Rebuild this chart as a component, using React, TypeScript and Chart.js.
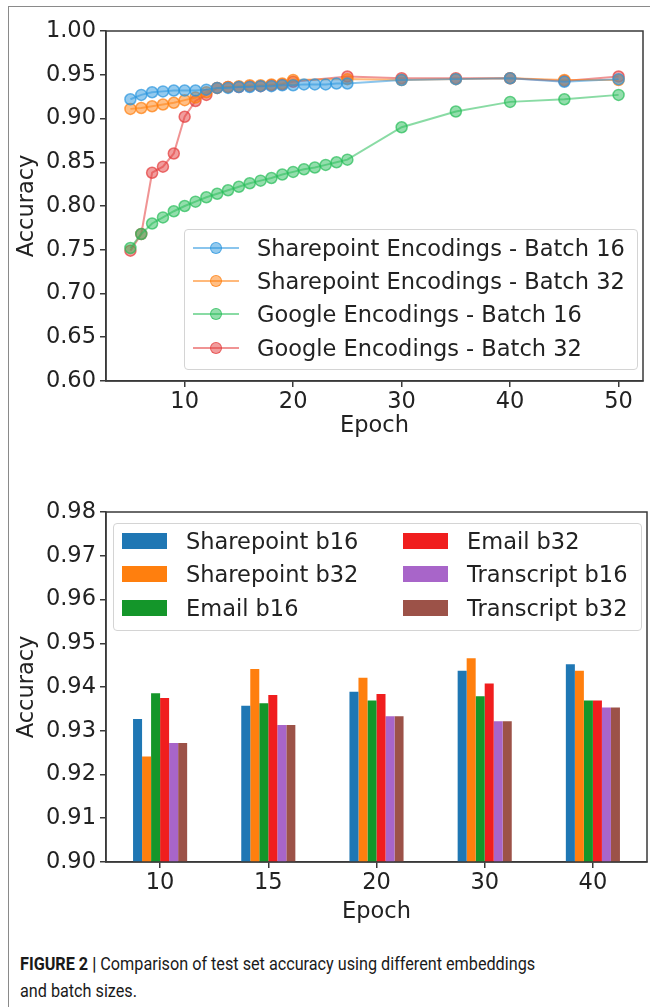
import React, { useEffect, useRef } from 'react';
import { Chart, registerables } from 'chart.js';
Chart.register(...registerables);

// ---------- Data: line chart ----------
const sp16Epochs = [5, 6, 7, 8, 9, 10, 11, 12, 13, 14, 15, 16, 17, 18, 19, 20, 21, 22, 23, 24, 25, 30, 35, 40, 45, 50];
const sp16Acc = [0.922, 0.927, 0.930, 0.931, 0.932, 0.932, 0.932, 0.933, 0.935, 0.935, 0.936, 0.936, 0.937, 0.937, 0.938, 0.938, 0.939, 0.939, 0.939, 0.940, 0.940, 0.944, 0.945, 0.946, 0.942, 0.945];

const sp32Epochs = [5, 6, 7, 8, 9, 10, 11, 12, 13, 14, 15, 16, 17, 18, 19, 20, 25, 30, 35, 40, 45, 50];
const sp32Acc = [0.911, 0.912, 0.914, 0.916, 0.918, 0.921, 0.924, 0.930, 0.935, 0.936, 0.937, 0.938, 0.938, 0.939, 0.940, 0.944, 0.945, 0.944, 0.945, 0.946, 0.944, 0.944];

const g16Epochs = [5, 6, 7, 8, 9, 10, 11, 12, 13, 14, 15, 16, 17, 18, 19, 20, 21, 22, 23, 24, 25, 30, 35, 40, 45, 50];
const g16Acc = [0.752, 0.768, 0.780, 0.787, 0.794, 0.800, 0.805, 0.810, 0.814, 0.818, 0.822, 0.826, 0.829, 0.832, 0.836, 0.839, 0.842, 0.844, 0.847, 0.850, 0.853, 0.890, 0.908, 0.919, 0.922, 0.927];

const g32Epochs = [5, 6, 7, 8, 9, 10, 11, 12, 13, 14, 15, 16, 17, 18, 19, 20, 25, 30, 35, 40, 45, 50];
const g32Acc = [0.749, 0.768, 0.838, 0.845, 0.860, 0.902, 0.920, 0.927, 0.935, 0.936, 0.936, 0.937, 0.937, 0.938, 0.939, 0.942, 0.948, 0.946, 0.946, 0.946, 0.943, 0.948];

const lineLabels = [
  'Sharepoint Encodings - Batch 16',
  'Sharepoint Encodings - Batch 32',
  'Google Encodings - Batch 16',
  'Google Encodings - Batch 32',
];
const lineXTicks = [10, 20, 30, 40, 50];
const lineYTicks = [0.6, 0.65, 0.7, 0.75, 0.8, 0.85, 0.9, 0.95, 1.0];

// ---------- Data: bar chart ----------
const barEpochs = ['10', '15', '20', '30', '40'];
const spB16 = [0.9327, 0.9357, 0.9389, 0.9437, 0.9452];
const spB32 = [0.9241, 0.9441, 0.9421, 0.9466, 0.9437];
const emB16 = [0.9386, 0.9363, 0.9369, 0.9379, 0.9369];
const emB32 = [0.9375, 0.9382, 0.9384, 0.9408, 0.9369];
const trB16 = [0.9272, 0.9313, 0.9333, 0.9322, 0.9353];
const trB32 = [0.9272, 0.9313, 0.9333, 0.9322, 0.9353];
const barLabels = ['Sharepoint b16', 'Sharepoint b32', 'Email b16', 'Email b32', 'Transcript b16', 'Transcript b32'];
const barYTicks = [0.9, 0.91, 0.92, 0.93, 0.94, 0.95, 0.96, 0.97, 0.98];

// ---------- Styles ----------
const FONT = "'DejaVu Sans', sans-serif";
const FS = 22.5;
const TXT = '#222222';
const AX = '#3a3a3a';
const lineRGB = ['41,150,222', '255,127,14', '40,190,90', '228,60,60'];
const barColors = ['#1f77b4', '#ff7f0e', '#14962a', '#f01e1e', '#a865c9', '#9c5248'];

const framePlugin = {
  id: 'frame',
  afterDraw(chart: any) {
    const { ctx, chartArea } = chart;
    const { left, top, right, bottom } = chartArea;
    ctx.save();
    ctx.strokeStyle = AX;
    ctx.lineWidth = 1.5;
    ctx.strokeRect(left, top, right - left, bottom - top);
    ctx.restore();
  },
};

const tickFont = { family: FONT, size: FS };

function axisGrid() {
  return { display: true, drawOnChartArea: false, drawTicks: true, tickLength: 6, color: AX, lineWidth: 1.5 };
}

function LineChart() {
  const ref = useRef<HTMLCanvasElement | null>(null);
  useEffect(() => {
    const series = [
      [sp16Epochs, sp16Acc],
      [sp32Epochs, sp32Acc],
      [g16Epochs, g16Acc],
      [g32Epochs, g32Acc],
    ];
    const chart = new Chart(ref.current as HTMLCanvasElement, {
      type: 'line',
      data: {
        datasets: series.map(([ep, acc], i) => ({
          label: lineLabels[i],
          data: (ep as number[]).map((e, j) => ({ x: e, y: (acc as number[])[j] })),
          borderColor: `rgba(${lineRGB[i]},0.55)`,
          backgroundColor: `rgba(${lineRGB[i]},0.5)`,
          pointBackgroundColor: `rgba(${lineRGB[i]},0.5)`,
          pointBorderColor: `rgba(${lineRGB[i]},0.7)`,
          pointBorderWidth: 1.5,
          pointRadius: 5.5,
          borderWidth: 2,
          tension: 0,
          fill: false,
        })),
      },
      options: {
        animation: false,
        responsive: false,
        layout: { padding: { top: 31, right: 5, left: 0, bottom: 0 } },
        plugins: { legend: { display: false }, tooltip: { enabled: false } },
        scales: {
          x: {
            type: 'linear',
            min: 2.75,
            max: 52.25,
            afterBuildTicks: (s: any) => {
              s.ticks = lineXTicks.map((v) => ({ value: v }));
            },
            afterFit: (s: any) => {
              s.height = 64;
            },
            ticks: { font: tickFont, color: TXT, padding: 2, maxRotation: 0 },
            grid: axisGrid(),
            border: { display: true, color: AX, width: 1.5 },
            title: { display: true, text: 'Epoch', font: tickFont, color: TXT, padding: { top: 0, bottom: 5 } },
          },
          y: {
            min: 0.6,
            max: 1.0,
            afterBuildTicks: (s: any) => {
              s.ticks = lineYTicks.map((v) => ({ value: v }));
            },
            afterFit: (s: any) => {
              s.width = 106;
            },
            ticks: { font: tickFont, color: TXT, padding: 4, callback: (v: any) => Number(v).toFixed(2) },
            grid: axisGrid(),
            border: { display: true, color: AX, width: 1.5 },
            title: { display: true, text: 'Accuracy', font: tickFont, color: TXT, padding: { top: 14, bottom: 0 } },
          },
        },
      } as any,
      plugins: [framePlugin],
    });
    return () => chart.destroy();
  }, []);
  return <canvas ref={ref} width={650} height={445} style={{ position: 'absolute', left: 0, top: 0, width: 650, height: 445 }} />;
}

function BarChart() {
  const ref = useRef<HTMLCanvasElement | null>(null);
  useEffect(() => {
    const vals = [spB16, spB32, emB16, emB32, trB16, trB32];
    const chart = new Chart(ref.current as HTMLCanvasElement, {
      type: 'bar',
      data: {
        labels: barEpochs,
        datasets: vals.map((v, i) => ({
          label: barLabels[i],
          data: v,
          backgroundColor: barColors[i],
          borderWidth: 0,
          barPercentage: 1.0,
          categoryPercentage: 0.5,
        })),
      },
      options: {
        animation: false,
        responsive: false,
        layout: { padding: { top: 62, right: 3, left: 0, bottom: 0 } },
        plugins: { legend: { display: false }, tooltip: { enabled: false } },
        scales: {
          x: {
            afterFit: (s: any) => {
              s.height = 68;
            },
            ticks: { font: tickFont, color: TXT, padding: 2, maxRotation: 0 },
            grid: { ...axisGrid(), offset: false },
            border: { display: true, color: AX, width: 1.5 },
            title: { display: true, text: 'Epoch', font: tickFont, color: TXT, padding: { top: 0, bottom: 4 } },
          },
          y: {
            min: 0.9,
            max: 0.98,
            afterBuildTicks: (s: any) => {
              s.ticks = barYTicks.map((v) => ({ value: v }));
            },
            afterFit: (s: any) => {
              s.width = 106;
            },
            ticks: { font: tickFont, color: TXT, padding: 4, callback: (v: any) => Number(v).toFixed(2) },
            grid: axisGrid(),
            border: { display: true, color: AX, width: 1.5 },
            title: { display: true, text: 'Accuracy', font: tickFont, color: TXT, padding: { top: 14, bottom: 0 } },
          },
        },
      } as any,
      plugins: [framePlugin],
    });
    return () => chart.destroy();
  }, []);
  return <canvas ref={ref} width={650} height={480} style={{ position: 'absolute', left: 0, top: 450, width: 650, height: 480 }} />;
}

const legendText: React.CSSProperties = {
  position: 'absolute',
  fontFamily: FONT,
  fontSize: FS,
  color: TXT,
  whiteSpace: 'nowrap',
  lineHeight: '26px',
};

function LineLegend() {
  const rows = [248, 281, 314, 348];
  return (
    <div>
      <div
        style={{
          position: 'absolute',
          left: 184,
          top: 229,
          width: 452,
          height: 139,
          border: '1px solid #d4d4d4',
          borderRadius: 4,
          background: 'rgba(255,255,255,0.85)',
        }}
      />
      {rows.map((cy, i) => (
        <React.Fragment key={i}>
          <div style={{ position: 'absolute', left: 193, top: cy - 1, width: 46, height: 2, background: `rgba(${lineRGB[i]},0.55)` }} />
          <div
            style={{
              position: 'absolute',
              left: 216 - 6.5,
              top: cy - 6.5,
              width: 10,
              height: 10,
              borderRadius: '50%',
              background: `rgba(${lineRGB[i]},0.5)`,
              border: `1.5px solid rgba(${lineRGB[i]},0.7)`,
            }}
          />
          <div style={{ ...legendText, left: 257, top: cy - 13 }}>{lineLabels[i]}</div>
        </React.Fragment>
      ))}
    </div>
  );
}

function BarLegend() {
  const rows = [541, 574, 608];
  const cols = [
    { sw: 122, tx: 186 },
    { sw: 403, tx: 467 },
  ];
  return (
    <div>
      <div
        style={{
          position: 'absolute',
          left: 113,
          top: 523,
          width: 527,
          height: 106,
          border: '1px solid #d4d4d4',
          borderRadius: 4,
          background: 'rgba(255,255,255,0.85)',
        }}
      />
      {barLabels.map((lab, i) => {
        const c = cols[Math.floor(i / 3)];
        const cy = rows[i % 3];
        return (
          <React.Fragment key={i}>
            <div style={{ position: 'absolute', left: c.sw, top: cy - 8, width: 45, height: 16, background: barColors[i] }} />
            <div style={{ ...legendText, left: c.tx, top: cy - 13 }}>{lab}</div>
          </React.Fragment>
        );
      })}
    </div>
  );
}

export default function App() {
  return (
    <div style={{ position: 'absolute', left: 0, top: 0, width: 650, height: 1007, background: '#fff', overflow: 'hidden' }}>
      <div
        style={{
          position: 'absolute',
          left: 8,
          top: 6,
          width: 660,
          height: 1010,
          borderLeft: '1.5px solid #8a8a8a',
          borderTop: '1.5px solid #8a8a8a',
        }}
      />
      <LineChart />
      <LineLegend />
      <BarChart />
      <BarLegend />
      <div
        style={{
          position: 'absolute',
          left: 20,
          top: 950,
          width: 700,
          fontFamily: "'Roboto', 'Liberation Sans', sans-serif",
          fontSize: 18,
          lineHeight: '27px',
          color: '#1a1a1a',
          transform: 'scaleX(0.9)',
          transformOrigin: 'left top',
          whiteSpace: 'nowrap',
        }}
      >
        <b>FIGURE 2 |</b> Comparison of test set accuracy using different embeddings
        <br />
        and batch sizes.
      </div>
    </div>
  );
}
